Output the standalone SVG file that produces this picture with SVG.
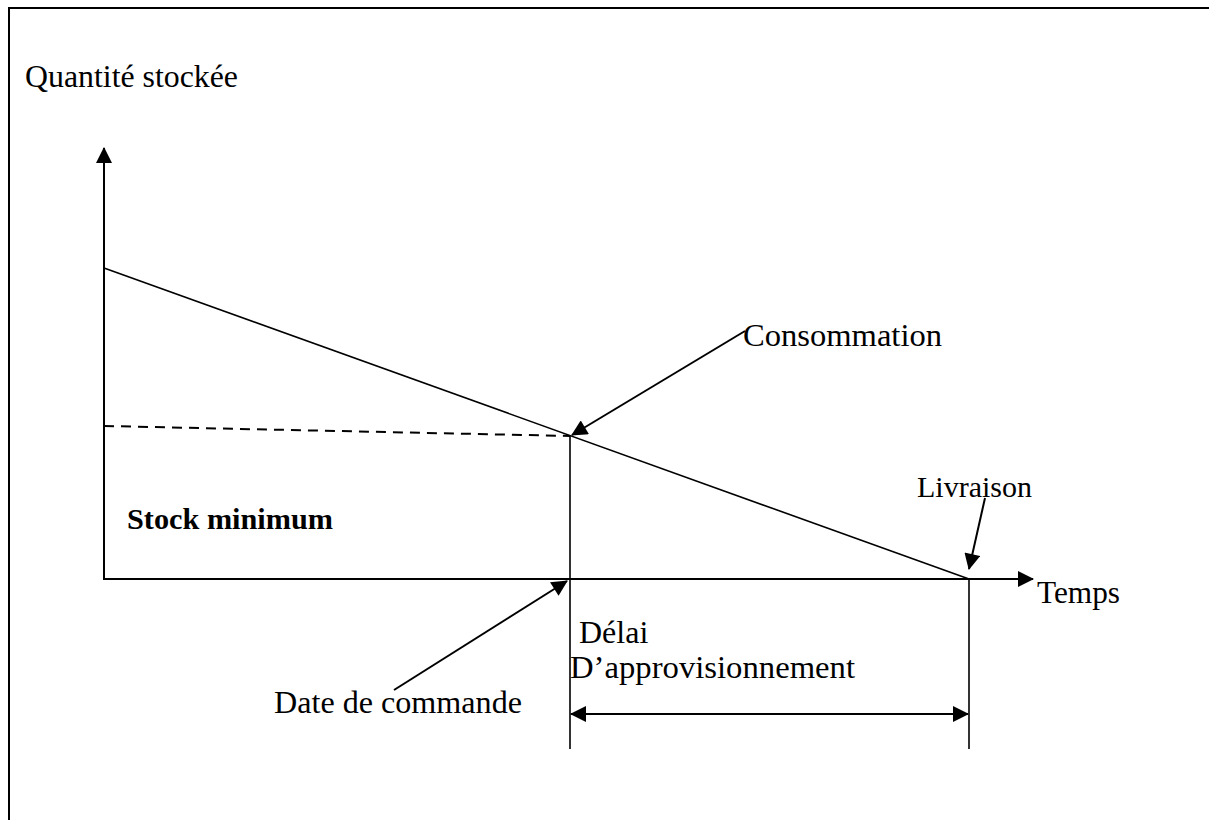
<svg xmlns="http://www.w3.org/2000/svg" width="1209" height="820" viewBox="0 0 1209 820">
  <style>
    .t { font-family: "Liberation Serif", "Times New Roman", serif; font-size: 32px; fill: #000; }
    .s { font-size: 30px; }
    .b { font-weight: bold; font-size: 30px; }
    .ln { stroke: #000; stroke-width: 1.6; fill: none; }
    .ax { stroke: #000; stroke-width: 2; fill: none; }
  </style>
  <defs>
    <marker id="ah" viewBox="0 0 16 16" refX="15" refY="8" markerWidth="17" markerHeight="16" markerUnits="userSpaceOnUse" orient="auto-start-reverse">
      <path d="M0,0 L16,8 L0,16 Z" fill="#000"/>
    </marker>
  </defs>
  <rect width="1209" height="820" fill="#fff"/>
  <g id="frame">
    <path d="M9,820 L9,8 L1209,8" class="ax"/>
  </g>
  <g id="connectors">
    <line x1="104" y1="580" x2="104" y2="148" class="ax" marker-end="url(#ah)"/>
    <line x1="104" y1="579" x2="1033" y2="579" class="ax" marker-end="url(#ah)"/>
    <line x1="104" y1="268" x2="969" y2="579" class="ln"/>
    <line x1="104" y1="426" x2="570" y2="436" class="ax" stroke-dasharray="10 7"/>
    <line x1="570" y1="436" x2="570" y2="749" class="ln"/>
    <line x1="969" y1="579" x2="969" y2="749" class="ln"/>
    <line x1="571" y1="714" x2="968" y2="714" class="ax" marker-start="url(#ah)" marker-end="url(#ah)"/>
    <line x1="745" y1="331" x2="572" y2="435" class="ax" marker-end="url(#ah)"/>
    <line x1="394" y1="690" x2="567" y2="581" class="ax" marker-end="url(#ah)"/>
    <line x1="985" y1="498" x2="969" y2="569" class="ax" marker-end="url(#ah)"/>
  </g>
  <g id="label-quantite"><text x="25" y="87" class="t" textLength="213" lengthAdjust="spacingAndGlyphs">Quantité stockée</text></g>
  <g id="label-consommation"><text x="743" y="346" class="t" textLength="199" lengthAdjust="spacingAndGlyphs">Consommation</text></g>
  <g id="label-stock-minimum"><text x="127" y="529" class="t b" textLength="206" lengthAdjust="spacingAndGlyphs">Stock minimum</text></g>
  <g id="label-livraison"><text x="917" y="497" class="t s">Livraison</text></g>
  <g id="label-temps"><text x="1037" y="603" class="t" textLength="83" lengthAdjust="spacingAndGlyphs">Temps</text></g>
  <g id="label-delai"><text x="579" y="643" class="t">Délai</text><text x="570" y="678" class="t" textLength="285" lengthAdjust="spacingAndGlyphs">D’approvisionnement</text></g>
  <g id="label-date-commande"><text x="274" y="713" class="t" textLength="248" lengthAdjust="spacingAndGlyphs">Date de commande</text></g>
</svg>
